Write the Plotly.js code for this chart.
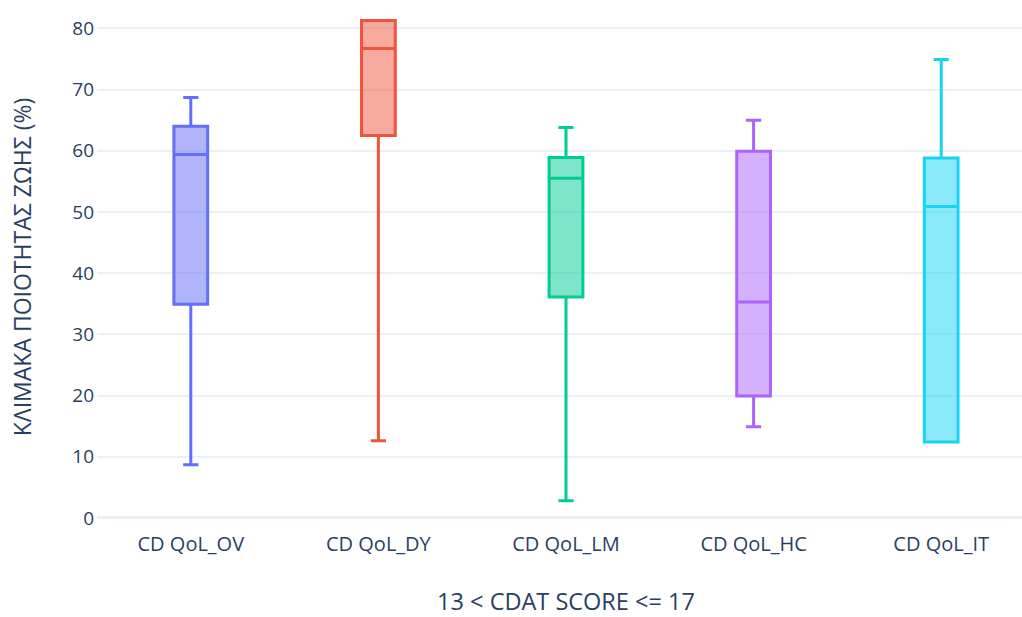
<!DOCTYPE html>
<html><head><meta charset="utf-8">
<script src="https://cdn.plot.ly/plotly-3.0.1.min.js"></script>
<style>html,body{margin:0;padding:0;overflow:hidden;background:#fff}</style>
</head><body><div id="chart"></div>
<script>
const categories = ["CD QoL_OV", "CD QoL_DY", "CD QoL_LM", "CD QoL_HC", "CD QoL_IT"];
const lowerFence = [8.7, 12.6, 2.8, 14.9, 12.4];
const q1Values   = [34.9, 62.5, 36.1, 19.9, 12.4];
const medians    = [59.4, 76.7, 55.5, 35.3, 50.9];
const q3Values   = [64.0, 81.3, 58.9, 59.9, 58.8];
const upperFence = [68.7, 81.3, 63.8, 65.0, 74.9];
const colors = ["#636efa", "#EF553B", "#00cc96", "#ab63fa", "#19d3f3"];

const traces = categories.map((c, i) => ({
  type: "box",
  name: c,
  x: [c],
  q1: [q1Values[i]],
  median: [medians[i]],
  q3: [q3Values[i]],
  lowerfence: [lowerFence[i]],
  upperfence: [upperFence[i]],
  marker: {color: colors[i]},
  line: {color: colors[i], width: 3},
  width: 0.18,
  whiskerwidth: 0.45,
  showlegend: false
}));

const layout = {
  width: 1035, height: 617,
  margin: {l: 97, r: 0, t: 10, b: 93},
  paper_bgcolor: "#fff", plot_bgcolor: "#fff",
  font: {family: "Open Sans, sans-serif", color: "#2a3f5f", size: 19},
  showlegend: false,
  xaxis: {
    categoryorder: "array", categoryarray: categories,
    range: [-0.5, 4.5],
    title: {text: "13 < CDAT SCORE <= 17", font: {size: 23.5}, standoff: 51},
    tickfont: {size: 20}, showgrid: false, zeroline: false, automargin: false,
    ticklabelstandoff: 6
  },
  yaxis: {
    range: [-1, 83],
    tickvals: [0, 10, 20, 30, 40, 50, 60, 70, 80],
    gridcolor: "#ebf0f8", gridwidth: 1.5,
    zeroline: true, zerolinecolor: "#ebf0f8", zerolinewidth: 3,
    title: {text: "ΚΛΙΜΑΚΑ ΠΟΙΟΤΗΤΑΣ ΖΩΗΣ (%)", font: {size: 23}, standoff: 34},
    tickfont: {size: 19}, automargin: false, ticklabelstandoff: 2
  }
};
Plotly.newPlot("chart", traces, layout, {displayModeBar: false});
</script></body></html>
